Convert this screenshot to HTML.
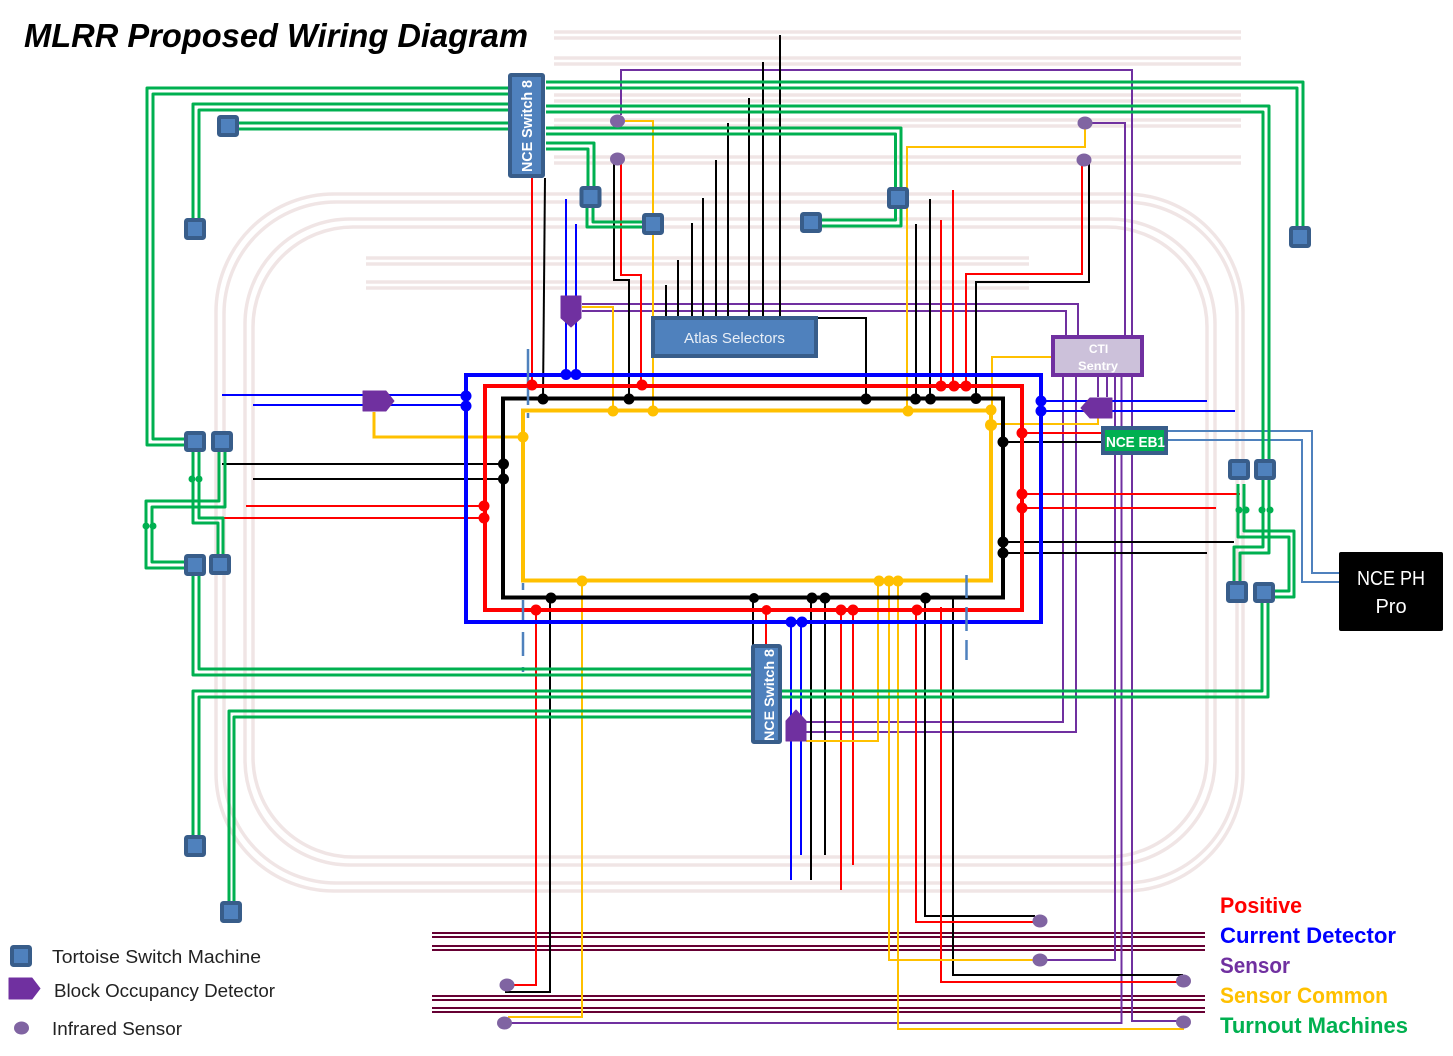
<!DOCTYPE html>
<html><head><meta charset="utf-8"><title>MLRR Proposed Wiring Diagram</title>
<style>
html,body{margin:0;padding:0;background:#fff}
svg{display:block}
text{font-family:"Liberation Sans",sans-serif}
.g path{fill:none;stroke:#00b050;stroke-width:3;stroke-linejoin:round}
.th path,.th rect{fill:none;stroke:#f0e5e5;stroke-width:3.500}
.d path{fill:none;stroke:#660033;stroke-width:2}
.w path{fill:none;stroke-width:2;stroke-linejoin:miter}
.k{stroke:#000}.r{stroke:#f00}.b{stroke:#00f}.y{stroke:#ffc000}.p{stroke:#7030a0}.s{stroke:#4f81bd}
.box rect{fill:#4f81bd;stroke:#385d8a;stroke-width:4;rx:1.5}
.bus rect{fill:none;stroke-width:4}
.sen ellipse{fill:#8064a2}
.bod path{fill:#7030a0;stroke:#7030a0;stroke-width:1;stroke-linejoin:round}
</style></head>
<body>
<svg width="1453" height="1056" viewBox="0 0 1453 1056" xmlns="http://www.w3.org/2000/svg">
<rect width="1453" height="1056" fill="#fff"/>

<g class="th">
<path d="M554 32H1241M554 38H1241M554 58H1241M554 64H1241M554 95H1241M554 101H1241M554 120H1241M554 126H1241M554 157H1241M554 163H1241"/>
<path d="M366 258H1029M366 264H1029M366 282H1029M366 288H1029"/>
<rect x="216" y="194" width="1027" height="697" rx="118"/>
<rect x="224" y="202" width="1013" height="681" rx="112"/>
<rect x="245" y="219" width="970" height="646" rx="105"/>
<rect x="253" y="227" width="954" height="630" rx="100"/>
</g>

<g class="d">
<path d="M432 933H1205M432 937H1205M432 946H1205M432 950H1205M432 996H1205M432 1000H1205M432 1008H1205M432 1012H1205"/>
</g>

<!-- thin wires: purple -->
<g class="w">
<path class="p" d="M621 115V70H1132V335"/>
<path class="p" d="M1090 123H1125V335"/>
<path class="p" d="M582 304H1078V335"/>
<path class="p" d="M582 311H1066V335"/>
<path class="p" d="M806 722H1063V377"/>
<path class="p" d="M806 732H1076V377"/>
<path class="p" d="M1098 377V397M1107 377V397"/>
<path class="p" d="M1115 377V960H1046"/>
<path class="p" d="M1121.500 377V1023H510"/>
<path class="p" d="M1132 377V1021H1178"/>

<!-- black thin -->
<path class="k" d="M666 285V316M678 260V316M692 223V316M703 198V316M716 160V316M728 123V316M749 98V316M763 62V316M780 35V316"/>
<path class="k" d="M818 318H866V398"/>
<path class="k" d="M545 178L543 398"/>
<path class="k" d="M614 160V280H629V398"/>
<path class="k" d="M916 224V398M930 199V398"/>
<path class="k" d="M1089 160V282H976V398"/>
<path class="k" d="M222 464H503M253 479H503"/>
<path class="k" d="M1003 442H1101M1003 542H1234M1003 553H1207"/>
<path class="k" d="M753 598V645M811 598V880M825 598V855"/>
<path class="k" d="M550 598V992H506V989"/>
<path class="k" d="M925 598V916H1035"/>
<path class="k" d="M953 598V975H1183"/>

<!-- red thin -->
<path class="r" d="M532 178V386"/>
<path class="r" d="M621 160V275H641V385"/>
<path class="r" d="M941 220V386M953 190V386"/>
<path class="r" d="M1082 160V274H966V386"/>
<path class="r" d="M246 506H484M223 518H484"/>
<path class="r" d="M1022 433H1101M1022 494H1240M1022 508H1216"/>
<path class="r" d="M766 610V645M841 610V890M853 610V865"/>
<path class="r" d="M536 610V985H510"/>
<path class="r" d="M916 610V922H1035"/>
<path class="r" d="M941 607V982H1180"/>

<!-- blue thin -->
<path class="b" d="M566 199V375M576 224V375"/>
<path class="b" d="M222 395H466M253 405H466"/>
<path class="b" d="M1041 401H1207M1041 411H1235"/>
<path class="b" d="M791 622V880M801 622V855"/>

<!-- yellow thin -->
<path class="y" d="M625 121H653V410"/>
<path class="y" d="M582 307H613V410"/>
<path class="y" d="M1085 128V147H907V410"/>
<path class="y" d="M1052 357H992V425"/>
<path class="y" d="M991 424H1098V416"/>
<path class="y" d="M806 741H878V581"/>
<path class="y" d="M889 581V960H1035"/>
<path class="y" d="M898 581V1029H1184"/>
<path class="y" d="M582 581V1017H508"/>
<path class="y" style="stroke-width:3" d="M374 412V437H523"/>

<!-- steel blue -->
<path class="s" d="M1167 431H1312V573H1339M1167 440H1302V582H1339"/>
</g>

<!-- bus -->
<g class="bus">
<rect x="466" y="375" width="575" height="247" stroke="#0000ff"/>
<rect x="485" y="386" width="537" height="224" stroke="#ff0000"/>
<rect x="503" y="398.500" width="500" height="199" stroke="#000"/>
<rect x="523" y="410.500" width="468" height="170" stroke="#ffc000"/>
</g>

<!-- dashed steel blue -->
<g class="w">
<path class="s" style="stroke-width:2.500" d="M528 349V405M528 413V418M523 583V590M523 600V620M523 632V656M523 667V672M966.500 575V598M966.500 607V631M966.500 640V660"/>
</g>

<!-- dots -->
<g fill="#0000ff"><circle cx="566" cy="374.500" r="5.500"/><circle cx="576" cy="374.500" r="5.500"/><circle cx="466" cy="396" r="5.500"/><circle cx="466" cy="406" r="5.500"/><circle cx="1041" cy="401" r="5.500"/><circle cx="1041" cy="411" r="5.500"/><circle cx="791" cy="622" r="5.500"/><circle cx="802" cy="622" r="5.500"/></g>
<g fill="#ff0000"><circle cx="532" cy="385" r="5.500"/><circle cx="642" cy="385" r="5.500"/><circle cx="941" cy="386" r="5.500"/><circle cx="954" cy="386" r="5.500"/><circle cx="966" cy="386" r="5.500"/><circle cx="484" cy="506" r="5.500"/><circle cx="484" cy="518" r="5.500"/><circle cx="1022" cy="433" r="5.500"/><circle cx="1022" cy="494" r="5.500"/><circle cx="1022" cy="508" r="5.500"/><circle cx="766.500" cy="610" r="5"/><circle cx="841" cy="610" r="5.500"/><circle cx="853" cy="610" r="5.500"/><circle cx="917" cy="610" r="5.500"/><circle cx="536" cy="610" r="5.500"/></g>
<g fill="#000"><circle cx="543" cy="399" r="5.500"/><circle cx="629" cy="399" r="5.500"/><circle cx="866" cy="399" r="5.500"/><circle cx="915.500" cy="399" r="5.500"/><circle cx="930.500" cy="399" r="5.500"/><circle cx="976" cy="398.500" r="5.500"/><circle cx="503.500" cy="464" r="5.500"/><circle cx="503.500" cy="479" r="5.500"/><circle cx="1003" cy="442" r="5.500"/><circle cx="1003" cy="542" r="5.500"/><circle cx="1003" cy="553" r="5.500"/><circle cx="754" cy="598" r="5"/><circle cx="812" cy="598" r="5.500"/><circle cx="825" cy="598" r="5.500"/><circle cx="925.500" cy="598" r="5.500"/><circle cx="551" cy="598" r="5.500"/></g>
<g fill="#ffc000"><circle cx="613" cy="411" r="5.500"/><circle cx="653" cy="411" r="5.500"/><circle cx="908" cy="411" r="5.500"/><circle cx="991" cy="410" r="5.500"/><circle cx="991" cy="425" r="6"/><circle cx="523" cy="437" r="5.500"/><circle cx="582" cy="581" r="5.500"/><circle cx="879" cy="581" r="5.500"/><circle cx="889" cy="581" r="5.500"/><circle cx="898" cy="581" r="5.500"/></g>

<!-- green wires -->
<g class="g">
<path d="M508 88H147V445H185M508 94H153V439H185"/>
<path d="M508 104H193V220M508 110H199V220"/>
<path d="M508 123H239M508 129H239"/>
<path d="M546 82H1303V228M546 88H1297V228"/>
<path d="M546 106H1269V460M546 112H1263V460"/>
<path d="M546 128H901V190M546 134H895.500V190"/>
<path d="M901 207V226H822M895.500 207V220H822"/>
<path d="M546 143H594V190M546 149H588V190"/>
<path d="M593 207V222H642M587 207V227H642"/>
<path d="M193 452V523H218V554M199 452V518H223V554"/>
<path d="M219 452V501H146V568H184M225 452V507H152V562H184"/>
<path d="M193 576V675H752M199 576V669H752"/>
<path d="M752 691H193V836M752 697H199V836"/>
<path d="M752 711H229V902M752 717H234V902"/>
<path d="M782 691H1262V603M782 697H1268V603"/>
<path d="M1263 480V547H1234V581M1269 480V553H1240V581"/>
<path d="M1238 484V537H1289V591H1275M1244 484V531H1294V597H1275"/>
</g>
<g fill="#00b050"><circle cx="192" cy="479" r="3.500"/><circle cx="199" cy="479" r="3.500"/><circle cx="146" cy="526" r="3.500"/><circle cx="153" cy="526" r="3.500"/><circle cx="1239" cy="510" r="3.500"/><circle cx="1246" cy="510" r="3.500"/><circle cx="1262" cy="510" r="3.500"/><circle cx="1270" cy="510" r="3.500"/></g>

<!-- tortoise boxes -->
<g class="box">
<rect x="219" y="117" width="18" height="18"/>
<rect x="186" y="220" width="18" height="18"/>
<rect x="581.500" y="188" width="18" height="18"/>
<rect x="644" y="215" width="18" height="18"/>
<rect x="889" y="189" width="18" height="18"/>
<rect x="802" y="214" width="18" height="17"/>
<rect x="1291" y="228" width="18" height="18"/>
<rect x="186" y="433" width="18" height="17"/>
<rect x="213" y="433" width="18" height="17"/>
<rect x="186" y="556" width="18" height="18"/>
<rect x="211" y="556" width="18" height="17"/>
<rect x="1230" y="461" width="18" height="17"/>
<rect x="1256" y="461" width="18" height="17"/>
<rect x="1228" y="583" width="18" height="18"/>
<rect x="1255" y="584" width="18" height="17"/>
<rect x="186" y="837" width="18" height="18"/>
<rect x="222" y="903" width="18" height="18"/>
<rect x="12" y="947" width="18" height="18"/>
</g>

<!-- sensors -->
<g class="sen">
<ellipse cx="617.500" cy="121" rx="7.500" ry="6.500"/>
<ellipse cx="617.500" cy="159" rx="7.500" ry="6.500"/>
<ellipse cx="1085" cy="123" rx="7.500" ry="6.500"/>
<ellipse cx="1084" cy="160" rx="7.500" ry="6.500"/>
<ellipse cx="1040" cy="921" rx="7.500" ry="6.500"/>
<ellipse cx="1040" cy="960" rx="7.500" ry="6.500"/>
<ellipse cx="1183.500" cy="981" rx="7.500" ry="6.500"/>
<ellipse cx="1183.500" cy="1022" rx="7.500" ry="6.500"/>
<ellipse cx="507" cy="985" rx="7.500" ry="6.500"/>
<ellipse cx="504.500" cy="1023" rx="7.500" ry="6.500"/>
<ellipse cx="21.500" cy="1028" rx="7.500" ry="6.500"/>
</g>

<!-- occupancy detectors -->
<g class="bod">
<path d="M561 296H581V318L571 327L561 318Z"/>
<path d="M363 391H386L394 401L386 411H363Z"/>
<path d="M1112 398H1090L1081 408L1090 418H1112Z"/>
<path d="M786 741V721L796 710L806 721V741Z"/>
<path d="M9 978H32L40 988.500L32 999H9Z"/>
</g>

<!-- modules -->
<rect x="510" y="75" width="33" height="101" fill="#4f81bd" stroke="#385d8a" stroke-width="4" rx="1"/>
<text transform="translate(532,172) rotate(-90)" font-size="15" font-weight="bold" fill="#fff" textLength="92" lengthAdjust="spacingAndGlyphs">NCE Switch 8</text>
<rect x="753" y="646" width="27" height="96" fill="#4f81bd" stroke="#385d8a" stroke-width="4" rx="1"/>
<text transform="translate(774,741) rotate(-90)" font-size="14" font-weight="bold" fill="#fff" textLength="92" lengthAdjust="spacingAndGlyphs">NCE Switch 8</text>
<rect x="653" y="318" width="163" height="38" fill="#4f81bd" stroke="#385d8a" stroke-width="4"/>
<text x="684" y="343" font-size="15" fill="#e8eef6" textLength="101" lengthAdjust="spacingAndGlyphs">Atlas Selectors</text>
<rect x="1053" y="337" width="89" height="38" fill="#ccc1da" stroke="#7030a0" stroke-width="4"/>
<text x="1098.500" y="353" font-size="12" font-weight="bold" fill="#fff" text-anchor="middle">CTI</text>
<text x="1098" y="370" font-size="12" font-weight="bold" fill="#fff" text-anchor="middle" textLength="40" lengthAdjust="spacingAndGlyphs">Sentry</text>
<rect x="1103" y="428" width="63" height="25" fill="#00b050" stroke="#385d8a" stroke-width="4"/>
<text x="1106" y="447" font-size="15" font-weight="bold" fill="#fff" textLength="59" lengthAdjust="spacingAndGlyphs">NCE EB1</text>
<rect x="1339" y="552" width="104" height="79" rx="2" fill="#000"/>
<text x="1391" y="585" font-size="20" fill="#fff" text-anchor="middle" textLength="68" lengthAdjust="spacingAndGlyphs">NCE PH</text>
<text x="1391" y="613" font-size="20" fill="#fff" text-anchor="middle">Pro</text>

<!-- title -->
<text x="24" y="47" font-size="33" font-weight="bold" font-style="italic" fill="#000" textLength="504" lengthAdjust="spacingAndGlyphs">MLRR Proposed Wiring Diagram</text>

<!-- legends -->
<g font-size="18" fill="#222">
<text x="52" y="963" textLength="209" lengthAdjust="spacingAndGlyphs">Tortoise Switch Machine</text>
<text x="54" y="997" textLength="221" lengthAdjust="spacingAndGlyphs">Block Occupancy Detector</text>
<text x="52" y="1035" textLength="130" lengthAdjust="spacingAndGlyphs">Infrared Sensor</text>
</g>
<g font-size="22" font-weight="bold">
<text x="1220" y="913" fill="#ff0000" textLength="82" lengthAdjust="spacingAndGlyphs">Positive</text>
<text x="1220" y="943" fill="#0000ff" textLength="176" lengthAdjust="spacingAndGlyphs">Current Detector</text>
<text x="1220" y="973" fill="#7030a0" textLength="70" lengthAdjust="spacingAndGlyphs">Sensor</text>
<text x="1220" y="1003" fill="#ffc000" textLength="168" lengthAdjust="spacingAndGlyphs">Sensor Common</text>
<text x="1220" y="1033" fill="#00b050" textLength="188" lengthAdjust="spacingAndGlyphs">Turnout Machines</text>
</g>
</svg>
</body></html>
